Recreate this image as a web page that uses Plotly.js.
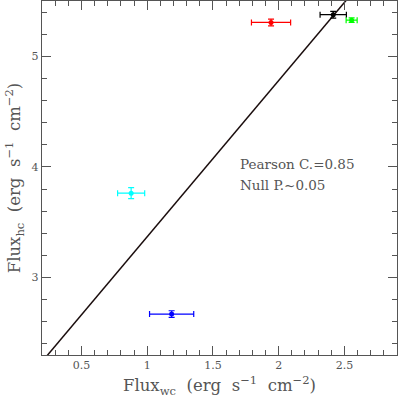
<!DOCTYPE html>
<html><head><meta charset="utf-8">
<script src="https://cdn.plot.ly/plotly-3.0.1.min.js"></script>
<style>html,body{margin:0;padding:0;background:#fff}#c{width:398px;height:399px}</style>
</head><body><div id="c"></div>
<script>
const names = ["cyan","blue","red","black","green"];
const colors = ["#00ffff","#0000ff","#ff0000","#000000","#00ff00"];
const fluxWC = [0.878, 1.186, 1.942, 2.415, 2.555];
const fluxWCerr = [0.103, 0.168, 0.149, 0.10, 0.042];
const fluxHC = [3.763, 2.67, 5.306, 5.376, 5.327];
const fluxHCerr = [0.05, 0.03, 0.03, 0.03, 0.02];
const fitX = [0.2, 2.9];
const fitSlope = 1.412, fitIntercept = 1.957;
const fitY = fitX.map(x => fitIntercept + fitSlope * x);
const statText = ["Pearson C.=0.85", "Null P.~0.05"];

const traces = [{
  x: fitX, y: fitY, mode: "lines", line: {color: "#1a0d0d", width: 1.5},
  hoverinfo: "skip", showlegend: false
}];
for (let i = 0; i < names.length; i++) {
  traces.push({
    x: [fluxWC[i]], y: [fluxHC[i]], mode: "markers", name: names[i],
    marker: {color: colors[i], size: 5},
    error_x: {type: "data", array: [fluxWCerr[i]], color: colors[i], thickness: 1.2, width: 3},
    error_y: {type: "data", array: [fluxHCerr[i]], color: colors[i], thickness: 1.2, width: 3},
    showlegend: false
  });
}
const axCommon = {
  showgrid: false, zeroline: false, showline: true, linecolor: "#555", linewidth: 1.2,
  mirror: "allticks", ticks: "inside", tickcolor: "#555", ticklen: 9, tickwidth: 1,
  tickfont: {family: "DejaVu Serif", size: 11, color: "#555"},
  minor: {ticks: "inside", ticklen: 5, tickcolor: "#555", tickwidth: 1}
};
const layout = {
  width: 398, height: 399,
  margin: {l: 42, r: 1, t: 1, b: 44},
  paper_bgcolor: "#fff", plot_bgcolor: "#fff",
  xaxis: Object.assign({}, axCommon, {
    range: [0.2, 2.9], dtick: 0.5, tick0: 0, minor: Object.assign({}, axCommon.minor, {dtick: 0.1}),
    title: {text: "Flux<sub>wc</sub>  (erg  s<sup>−1</sup>  cm<sup>−2</sup>)", standoff: 8,
      font: {family: "DejaVu Serif", size: 16.5, color: "#555"}}
  }),
  yaxis: Object.assign({}, axCommon, {
    range: [2.3, 5.5], dtick: 1, tick0: 0, minor: Object.assign({}, axCommon.minor, {dtick: 0.2}),
    title: {text: "Flux<sub>hc</sub>  (erg  s<sup>−1</sup>  cm<sup>−2</sup>)", standoff: 6,
      font: {family: "DejaVu Serif", size: 16.5, color: "#555"}}
  }),
  annotations: [
    {x: 1.69, y: 4.03, xref: "x", yref: "y", text: statText[0], showarrow: false, xanchor: "left",
     font: {family: "DejaVu Serif", size: 13.5, color: "#555"}},
    {x: 1.69, y: 3.84, xref: "x", yref: "y", text: statText[1], showarrow: false, xanchor: "left",
     font: {family: "DejaVu Serif", size: 13.5, color: "#555"}}
  ]
};
Plotly.newPlot("c", traces, layout, {displayModeBar: false, staticPlot: true});
</script></body></html>
